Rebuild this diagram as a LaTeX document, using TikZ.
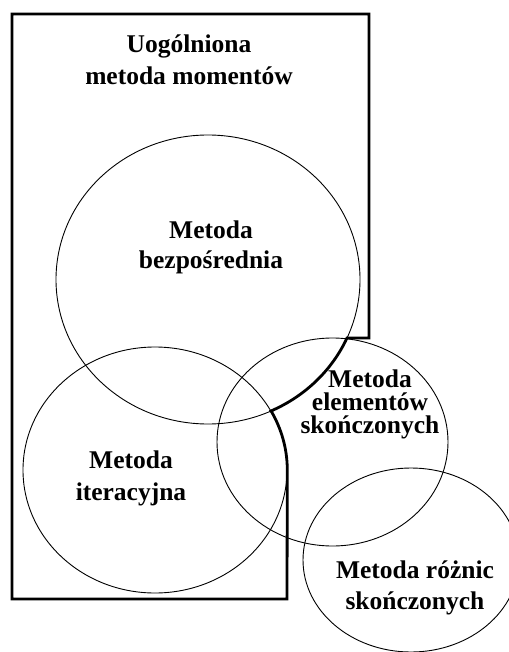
\documentclass[tikz,border=0pt]{standalone}
\usepackage{fontspec}
\setmainfont{Liberation Serif}
\begin{document}
\begin{tikzpicture}[x=1pt,y=-1pt,
  thinline/.style={line width=0.9pt,black},
  thickline/.style={line width=2.8pt,black,line join=miter},
  lbl/.style={font=\bfseries\fontsize{25.5}{32}\selectfont,align=center,anchor=base,inner sep=0pt}]
\useasboundingbox[fill=white] (0,0) rectangle (508,652);
% circles
\draw[thinline] (208,279.5) ellipse [x radius=152, y radius=144.5];
\draw[thinline] (155,470) ellipse [x radius=132, y radius=123];
\draw[thinline] (332.5,442) ellipse [x radius=115.5, y radius=104];
\draw[thinline] (411,560) ellipse [x radius=108, y radius=92];
% outer boundary
\draw[thickline] (12,14) -- (369,14) -- (369,338) -- (347,338)
  arc[start angle=23.9, end angle=65.5, x radius=152, y radius=144.5]
  arc[start angle=-28.7, end angle=0, x radius=132, y radius=123]
  -- (287,599) -- (12,599) -- cycle;
% labels (anchor = baseline of the last line)
\node[lbl] (mom) at (189,85) {Uogólniona\\metoda momentów};
\node[lbl,font=\bfseries\fontsize{25.5}{30}\selectfont] (bez) at (211,268) {Metoda\\bezpośrednia};
\node[lbl,font=\bfseries\fontsize{25.5}{23}\selectfont] (fem) at (370,433) {Metoda\\elementów\\skończonych};
\node[lbl] (ite) at (131,500) {Metoda\\iteracyjna};
\node[lbl,font=\bfseries\fontsize{25.5}{31}\selectfont] (roz) at (415,609) {Metoda różnic\\skończonych};
\end{tikzpicture}
\end{document}
